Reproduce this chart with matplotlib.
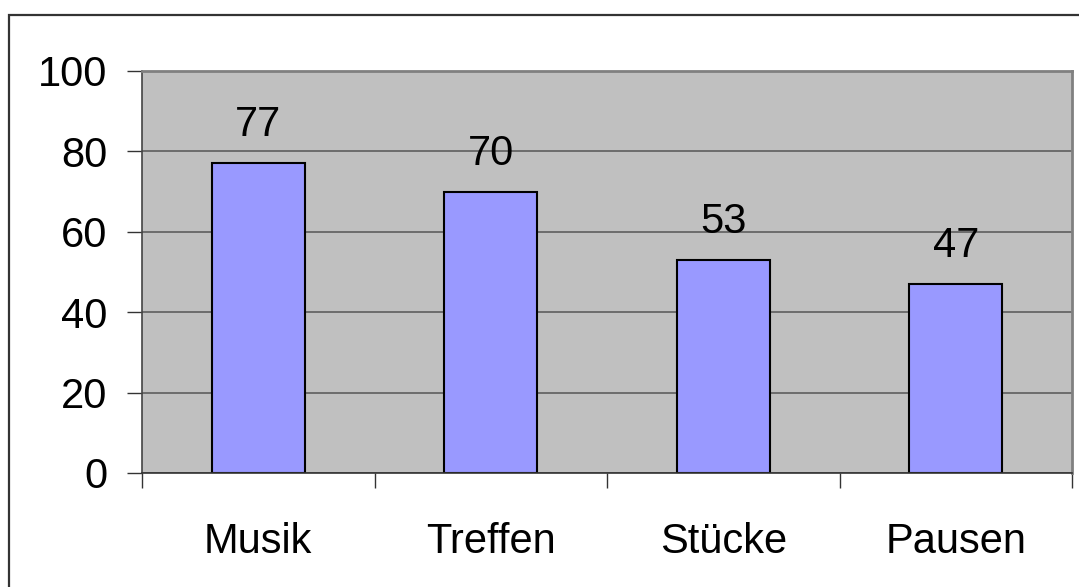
import matplotlib
matplotlib.use("Agg")
import matplotlib.pyplot as plt
from matplotlib.patches import Rectangle

categories = ["Musik", "Treffen", "Stücke", "Pausen"]
values = [77, 70, 53, 47]
yticks = [0, 20, 40, 60, 80, 100]

plt.rcParams['font.family'] = ['Liberation Sans', 'DejaVu Sans']
FS = 30

W, H = 1079, 587
fig = plt.figure(figsize=(W/100, H/100), dpi=100)
fig.patch.set_facecolor('white')

# outer chart border (runs off the right and bottom edges)
fig.patches.append(Rectangle((9/W, -0.05), 1.2, 1 - 15/H + 0.05,
                             transform=fig.transFigure, fill=False,
                             edgecolor='#333333', linewidth=1.6, zorder=0))

ax = fig.add_axes([142/W, 1 - 473/H, (1072-142)/W, (473-71)/H])
ax.set_facecolor('#C0C0C0')

x = list(range(len(categories)))
ax.bar(x, values, width=0.40, color='#9999FF', edgecolor='black',
       linewidth=1.5, zorder=3)

for xi, v in zip(x, values):
    ax.annotate(str(v), (xi, v), xytext=(0, 19.5), textcoords='offset points',
                ha='center', va='baseline', fontsize=FS, color='black')

ax.set_xlim(-0.5, len(categories) - 0.5)
ax.set_ylim(0, 100)
ax.set_yticks(yticks)
ax.set_yticklabels([str(t) for t in yticks], fontsize=FS)
ax.yaxis.grid(True, color='#555555', linewidth=1.1, zorder=1)
ax.set_axisbelow(True)

ax.set_xticks(x)
ax.set_xticklabels(categories, fontsize=FS)
ax.set_xticks([i - 0.5 for i in range(len(categories) + 1)], minor=True)
ax.tick_params(axis='x', which='major', length=0, pad=35)
ax.tick_params(axis='x', which='minor', length=10.5, width=1.0, color='#333333')
ax.tick_params(axis='y', length=10.8, width=1.0, color='#333333', pad=14)

for s in ['top', 'right']:
    ax.spines[s].set_color('#808080')
    ax.spines[s].set_linewidth(2.0)
ax.spines['left'].set_color('#444444')
ax.spines['left'].set_linewidth(1.2)
ax.spines['bottom'].set_color('#333333')
ax.spines['bottom'].set_linewidth(1.2)
ax.spines['bottom'].set_zorder(4)

fig.savefig('out.png', dpi=100)
